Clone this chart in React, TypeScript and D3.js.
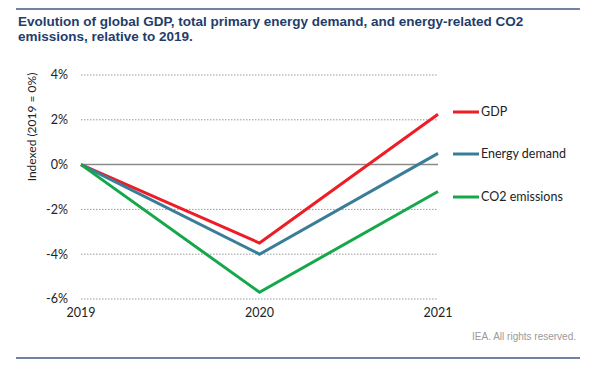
import React from "react";
import * as d3 from "d3";

const years = ["2019", "2020", "2021"];
const gdp = [0, -3.5, 2.25];
const energy = [0, -4.0, 0.5];
const co2 = [0, -5.7, -1.2];
const seriesNames = ["GDP", "Energy demand", "CO2 emissions"];
const seriesColors = ["#ee1c25", "#3a7d99", "#14a84b"];
const yTicks = [4, 2, 0, -2, -4, -6];
const titleLines = [
  "Evolution of global GDP, total primary energy demand, and energy-related CO2",
  "emissions, relative to 2019.",
];

export default function App() {
  const W = 605, H = 378;
  const x = d3.scalePoint<string>().domain(years).range([81, 438]);
  const y = d3.scaleLinear().domain([-6, 4]).range([299, 75]);
  const line = d3
    .line<number>()
    .x((_, i) => x(years[i]) as number)
    .y((d) => y(d));
  const allSeries = [gdp, energy, co2];
  const legendY = [112, 154, 197];
  const labelFont = "Lato, 'Open Sans', sans-serif";
  return (
    <svg
      width={W}
      height={H}
      style={{ position: "absolute", left: 0, top: 0, background: "#fff" }}
    >
      <line x1={16} x2={580} y1={9} y2={9} stroke="#3e5b80" strokeWidth={1.5} />
      {titleLines.map((t, i) => (
        <text
          key={i}
          x={18}
          y={26 + i * 14.5}
          fill="#1f3d6b"
          fontFamily="'Liberation Sans', Arial, sans-serif"
          fontWeight="bold"
          fontSize={13.5}
        >
          {t}
        </text>
      ))}
      {yTicks.map((t) => (
        <g key={t}>
          {t !== 0 && (
            <line
              x1={81}
              x2={438}
              y1={y(t)}
              y2={y(t)}
              stroke="#9a9a9a"
              strokeWidth={1}
              strokeDasharray="1.5,1.5"
            />
          )}
          <text
            x={68}
            y={y(t)}
            dy="0.35em"
            textAnchor="end"
            fontFamily={labelFont}
            fontSize={12.5}
            fill="#222"
          >
            {t + "%"}
          </text>
        </g>
      ))}
      <line x1={81} x2={438} y1={y(0)} y2={y(0)} stroke="#8a8a8a" strokeWidth={1.5} />
      {years.map((yr) => (
        <text
          key={yr}
          x={x(yr)}
          y={317}
          textAnchor="middle"
          fontFamily={labelFont}
          fontSize={12.5}
          fill="#222"
        >
          {yr}
        </text>
      ))}
      <text
        transform="translate(36,127) rotate(-90)"
        textAnchor="middle"
        fontFamily={labelFont}
        fontSize={12}
        fill="#222"
      >
        Indexed (2019 = 0%)
      </text>
      {allSeries.map((s, i) => (
        <path
          key={i}
          d={line(s) || ""}
          fill="none"
          stroke={seriesColors[i]}
          strokeWidth={3}
          strokeLinejoin="miter"
        />
      ))}
      {seriesNames.map((n, i) => (
        <g key={n}>
          <line
            x1={453}
            x2={479}
            y1={legendY[i]}
            y2={legendY[i]}
            stroke={seriesColors[i]}
            strokeWidth={3}
          />
          <text
            x={481}
            y={legendY[i]}
            dy="0.35em"
            fontFamily={labelFont}
            fontSize={12.5}
            fill="#222"
          >
            {n}
          </text>
        </g>
      ))}
      <text
        x={576}
        y={340}
        textAnchor="end"
        fontFamily="'Liberation Sans', Arial, sans-serif"
        fontSize={10}
        fill="#9a9a9a"
      >
        IEA. All rights reserved.
      </text>
      <line x1={16} x2={580} y1={358} y2={358} stroke="#3e5b80" strokeWidth={1.5} />
    </svg>
  );
}
